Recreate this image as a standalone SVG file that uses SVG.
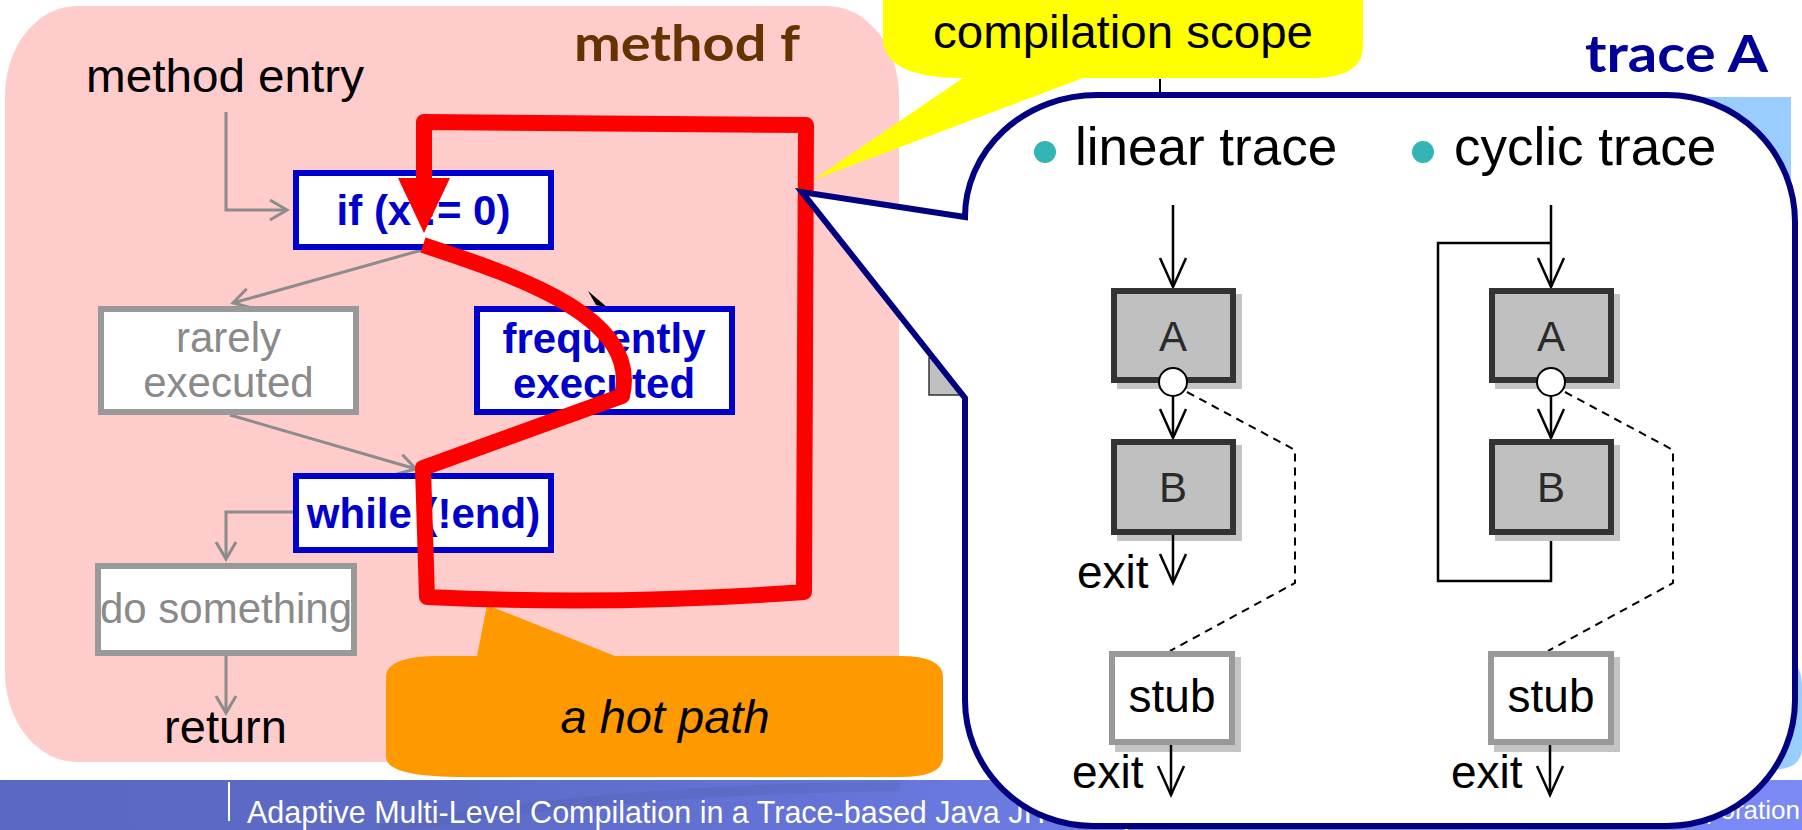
<svg xmlns="http://www.w3.org/2000/svg" width="1802" height="830" viewBox="0 0 1802 830">
  <style>
    .sans { font-family: 'Liberation Sans', Arial, sans-serif; }
    .title { font-family: Lato, 'Open Sans', sans-serif; font-weight: 700; }
    .lbl { font-family: 'Liberation Sans', Arial, sans-serif; font-size: 47px; fill: #000; }
    .hot { font-family: 'Liberation Sans', Arial, sans-serif; font-size: 42px; font-weight: 700; fill: #0000CC; text-anchor: middle; }
    .cold { font-family: 'Liberation Sans', Arial, sans-serif; font-size: 42px; fill: #8A8A8A; text-anchor: middle; }
    .hotbox { fill: #fff; stroke: #0000CC; stroke-width: 6; }
    .coldbox { fill: #fff; stroke: #999; stroke-width: 6; }
    .garrow { fill: none; stroke: #8C8C8C; stroke-width: 3; marker-end: url(#vGray); }
    .barrow { fill: none; stroke: #000; stroke-width: 2.5; marker-end: url(#vBlack); }
    .bline { fill: none; stroke: #000; stroke-width: 2.5; }
    .dash { fill: none; stroke: #000; stroke-width: 2; stroke-dasharray: 8 6; }
    .blk { fill: #C0C0C0; stroke: #333; stroke-width: 6; }
    .shadow { fill: #C4C4C4; }
    .stub { fill: #fff; stroke: #999; stroke-width: 6; }
    .blktxt { font-family: 'Liberation Sans', Arial, sans-serif; font-size: 42px; fill: #2a2a2a; text-anchor: middle; }
    .trtxt { font-family: 'Liberation Sans', Arial, sans-serif; font-size: 46px; fill: #000; }
  </style>
  <defs>
    <marker id="vGray" markerUnits="userSpaceOnUse" viewBox="-22 -14 26 28" markerWidth="26" markerHeight="28" refX="0" refY="0" orient="auto" overflow="visible">
      <path d="M-17,-10 L0,0 L-17,10" fill="none" stroke="#8C8C8C" stroke-width="3"/>
    </marker>
    <marker id="vBlack" markerUnits="userSpaceOnUse" viewBox="-32 -16 36 32" markerWidth="36" markerHeight="32" refX="0" refY="0" orient="auto" overflow="visible">
      <path d="M-29,-13 L0,0 L-29,13" fill="none" stroke="#000" stroke-width="2.5"/>
    </marker>
    <linearGradient id="footerGrad" x1="0" y1="0" x2="1" y2="0">
      <stop offset="0" stop-color="#5B68C3"/>
      <stop offset="0.25" stop-color="#5D6BC7"/>
      <stop offset="0.45" stop-color="#6473D6"/>
      <stop offset="0.7" stop-color="#7483EC"/>
      <stop offset="1" stop-color="#7B8AF6"/>
    </linearGradient>
  </defs>

  <!-- footer bar -->
  <g id="footer">
    <rect x="0" y="780" width="1802" height="50" fill="url(#footerGrad)"/>
    <path d="M380 830 Q 600 790 900 786" fill="none" stroke="#4E5AA8" stroke-width="10" opacity="0.25"/>
    <line x1="229" y1="782" x2="229" y2="821" stroke="#fff" stroke-width="2"/>
    <text x="247" y="823" class="sans" font-size="30.5" fill="#fff">Adaptive Multi-Level Compilation in a Trace-based Java JIT Compiler</text>
    <text x="1800" y="819" class="sans" font-size="26" fill="#fff" text-anchor="end">Corporation</text>
  </g>

  <!-- method f background -->
  <g id="method-f">
    <rect x="5" y="6" width="894" height="756" rx="72" ry="90" fill="#FFCCCC"/>
  </g>

  <!-- light blue panel behind the trace callout -->
  <path id="trace-panel" d="M1300 97 L1791 97 L1791 662 Q1802 664 1802 690 L1802 748 Q1802 770 1770 770 L1300 770 Z" fill="#99CCFF"/>

  <!-- small tick between callouts -->
  <line x1="1160" y1="79" x2="1160" y2="93" stroke="#000" stroke-width="2"/>

  <!-- yellow callout -->
  <g id="scope-callout">
    <path d="M883 -80 L1363 -80 L1363 46 Q1363 78 1311 78 L1083 78 L813 180 L963 78 Q883 78 883 38 Z" fill="#FFFF00"/>
    <text x="1123" y="48" class="sans" font-size="46" text-anchor="middle" textLength="380" lengthAdjust="spacingAndGlyphs">compilation scope</text>
  </g>

  <!-- partially hidden grey block -->
  <rect x="929" y="358" width="40" height="37" fill="#C0C0C0" stroke="#333" stroke-width="1.5"/>

  <!-- connectors of method f -->
  <g id="connectors">
    <polyline class="garrow" points="226,112 226,210 287,210"/>
    <line class="garrow" x1="422" y1="250" x2="233" y2="303"/>
    <line class="garrow" x1="230" y1="415" x2="416" y2="469"/>
    <polyline class="garrow" points="293,512 226,512 226,559"/>
    <line class="garrow" x1="226" y1="656" x2="226" y2="713"/>
    <!-- tip of the if -> frequently arrow, the rest runs under the hot path -->
    <polygon points="608,308 588,291 596,305" fill="#000"/>
  </g>

  <!-- method f nodes -->
  <text x="225" y="92" class="lbl" text-anchor="middle" textLength="278" lengthAdjust="spacingAndGlyphs">method entry</text>

  <g id="node-if">
    <rect class="hotbox" x="296" y="173" width="255" height="74"/>
    <text class="hot" x="423.5" y="225">if (x != 0)</text>
  </g>
  <g id="node-rarely">
    <rect class="coldbox" x="101" y="309" width="255" height="103"/>
    <text class="cold" x="228.5" y="352">rarely</text>
    <text class="cold" x="228.5" y="397">executed</text>
  </g>
  <g id="node-frequently">
    <rect class="hotbox" x="477" y="309" width="255" height="103"/>
    <text class="hot" x="604" y="353">frequently</text>
    <text class="hot" x="604" y="398">executed</text>
  </g>
  <g id="node-while">
    <rect class="hotbox" x="296" y="476" width="255" height="74"/>
    <text class="hot" x="423.5" y="528">while (!end)</text>
  </g>
  <g id="node-do">
    <rect class="coldbox" x="98" y="566" width="256" height="87"/>
    <text class="cold" x="226" y="623">do something</text>
  </g>
  <text x="225.5" y="743" class="lbl" text-anchor="middle">return</text>

  <!-- orange callout -->
  <g id="hot-path-callout">
    <path d="M477 656 L487 605 L615 656 L900 656 Q943 656 943 677 L943 757 Q943 777 900 777 L465 777 Q386 777 386 757 L386 677 Q386 656 440 656 Z" fill="#FF9900"/>
    <text x="665" y="733" class="sans" font-size="47" font-style="italic" text-anchor="middle">a hot path</text>
  </g>

  <!-- hot path drawn over method f -->
  <g id="hot-path">
    <path d="M423 245 C530 280 640 320 622 396 L423 468 L427 597 Q615 606 804 592 L806 125 L424 122 L424 182" fill="none" stroke="#FF0000" stroke-width="16" stroke-linejoin="round"/>
    <polygon points="398,178 450,178 424,233" fill="#FF0000"/>
  </g>

  <!-- trace callout -->
  <g id="trace-callout">
    <path d="M965 217 L802 192 L965 398 L965 700 A128 126 0 0 0 1093 826 L1667 826 A128 126 0 0 0 1795 700 L1795 222 A128 127 0 0 0 1667 95 L1097 95 A132 122 0 0 0 965 217 Z" fill="#fff" stroke="#000080" stroke-width="6" stroke-linejoin="miter"/>
    <circle cx="1045" cy="152" r="11" fill="#33B5B5"/>
    <text x="1075" y="165" class="sans" font-size="53">linear trace</text>
    <circle cx="1423" cy="152" r="11" fill="#33B5B5"/>
    <text x="1454" y="165" class="sans" font-size="53">cyclic trace</text>
  </g>

  <!-- linear trace -->
  <g id="linear-trace">
    <line class="barrow" x1="1173" y1="205" x2="1173" y2="287"/>
    <polyline class="dash" points="1187,392 1295,450 1295,583 1170,651"/>
    <g id="linear-A">
      <rect class="shadow" x="1117" y="294" width="125" height="95"/>
      <rect class="blk" x="1114" y="291" width="119" height="89"/>
      <text class="blktxt" x="1173" y="351">A</text>
    </g>
    <line class="barrow" x1="1173" y1="396" x2="1173" y2="438"/>
    <circle cx="1173" cy="382" r="14" fill="#fff" stroke="#000" stroke-width="2"/>
    <g id="linear-B">
      <rect class="shadow" x="1117" y="445" width="125" height="96"/>
      <rect class="blk" x="1114" y="442" width="119" height="90"/>
      <text class="blktxt" x="1173" y="502">B</text>
    </g>
    <line class="barrow" x1="1173" y1="535" x2="1173" y2="583"/>
    <text class="trtxt" x="1077" y="588">exit</text>
    <g id="linear-stub">
      <rect class="shadow" x="1115" y="657" width="126" height="95"/>
      <rect class="stub" x="1112" y="654" width="120" height="88"/>
      <text class="trtxt" x="1172" y="712" text-anchor="middle">stub</text>
    </g>
    <line class="barrow" x1="1171" y1="745" x2="1171" y2="795"/>
    <text class="trtxt" x="1072" y="788">exit</text>
  </g>

  <!-- cyclic trace -->
  <g id="cyclic-trace">
    <line class="barrow" x1="1551" y1="205" x2="1551" y2="287"/>
    <polyline class="bline" points="1551,535 1551,581 1438,581 1438,243 1551,243"/>
    <polyline class="dash" points="1565,392 1673,450 1673,583 1548,651"/>
    <g id="cyclic-A">
      <rect class="shadow" x="1495" y="294" width="125" height="95"/>
      <rect class="blk" x="1492" y="291" width="119" height="89"/>
      <text class="blktxt" x="1551" y="351">A</text>
    </g>
    <line class="barrow" x1="1551" y1="396" x2="1551" y2="438"/>
    <circle cx="1551" cy="382" r="14" fill="#fff" stroke="#000" stroke-width="2"/>
    <g id="cyclic-B">
      <rect class="shadow" x="1495" y="445" width="125" height="96"/>
      <rect class="blk" x="1492" y="442" width="119" height="90"/>
      <text class="blktxt" x="1551" y="502">B</text>
    </g>
    <g id="cyclic-stub">
      <rect class="shadow" x="1494" y="657" width="126" height="95"/>
      <rect class="stub" x="1491" y="654" width="120" height="88"/>
      <text class="trtxt" x="1551" y="712" text-anchor="middle">stub</text>
    </g>
    <line class="barrow" x1="1550" y1="745" x2="1550" y2="795"/>
    <text class="trtxt" x="1451" y="788">exit</text>
  </g>

  <!-- titles -->
  <text x="574" y="61" class="title" font-size="50" fill="#663300" textLength="226" lengthAdjust="spacingAndGlyphs">method f</text>
  <text x="1585" y="72" class="title" font-size="51" fill="#000099" textLength="183" lengthAdjust="spacingAndGlyphs">trace A</text>
</svg>
